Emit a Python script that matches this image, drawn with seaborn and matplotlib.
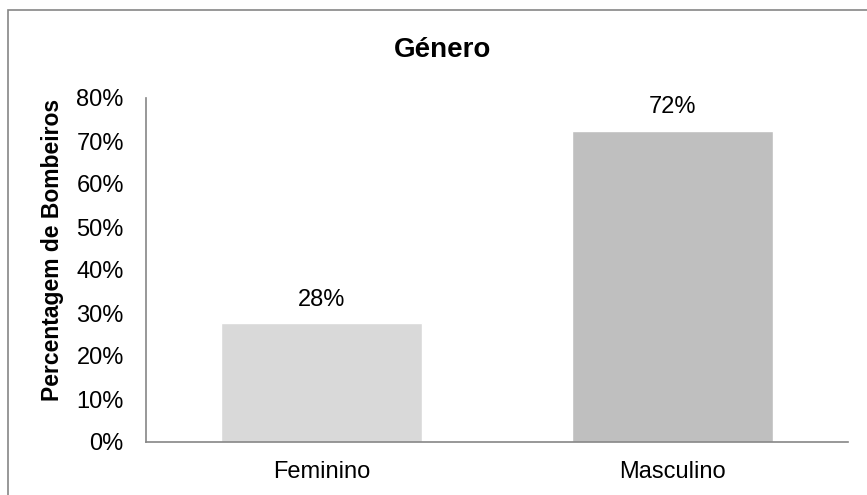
import numpy as np
import pandas as pd
import matplotlib
matplotlib.use('Agg')
import matplotlib.pyplot as plt
import seaborn as sns
from matplotlib.patches import Rectangle

categories = ['Feminino', 'Masculino']
values = [27.6, 72.4]
labels = ['28%', '72%']
bar_colors = ['#D9D9D9', '#BFBFBF']
yticks = [0, 10, 20, 30, 40, 50, 60, 70, 80]

sns.set_style('white')
plt.rcParams['font.family'] = ['Liberation Sans', 'DejaVu Sans']
plt.rcParams['text.color'] = 'black'
plt.rcParams['xtick.color'] = 'black'
plt.rcParams['ytick.color'] = 'black'

df = pd.DataFrame({'Género': categories, 'Percentagem': values})

fig = plt.figure(figsize=(8.67, 4.95), dpi=100)
ax = fig.add_axes([146/867, 1 - 442/495, (848 - 146)/867, (442 - 98)/495])

sns.barplot(data=df, x='Género', y='Percentagem', hue='Género', palette=bar_colors,
            width=0.573, legend=False, ax=ax, saturation=1)

for i, (v, lab) in enumerate(zip(values, labels)):
    ax.text(i, v + 4, lab, ha='center', va='baseline', fontsize=17, color='black')

ax.set_ylim(0, 80)
ax.set_yticks(yticks)
ax.set_yticklabels([f'{t}%' for t in yticks])
ax.tick_params(axis='y', length=0, pad=16, labelsize=17)
ax.tick_params(axis='x', length=0, pad=14, labelsize=17)
ax.set_xlabel('')
ax.set_ylabel('')

for side in ['top', 'right']:
    ax.spines[side].set_visible(False)
for side in ['left', 'bottom']:
    ax.spines[side].set_color('#868686')
    ax.spines[side].set_linewidth(1.2)

fig.text(53/867, 1 - 250/495, 'Percentagem de Bombeiros', rotation=90,
         ha='center', va='center', fontsize=16.5, fontweight='bold')
fig.text(443/867, 1 - 57/495, 'Género', ha='center', va='baseline',
         fontsize=20, fontweight='bold')

# chart-area frame (cut off at right and bottom in the original)
frame = Rectangle((8/867, -0.2), 1.2, 1 - 10/495 + 0.2, transform=fig.transFigure,
                  fill=False, edgecolor='#868686', linewidth=1.2)
fig.patches.append(frame)

fig.savefig('out.png', dpi=100)
